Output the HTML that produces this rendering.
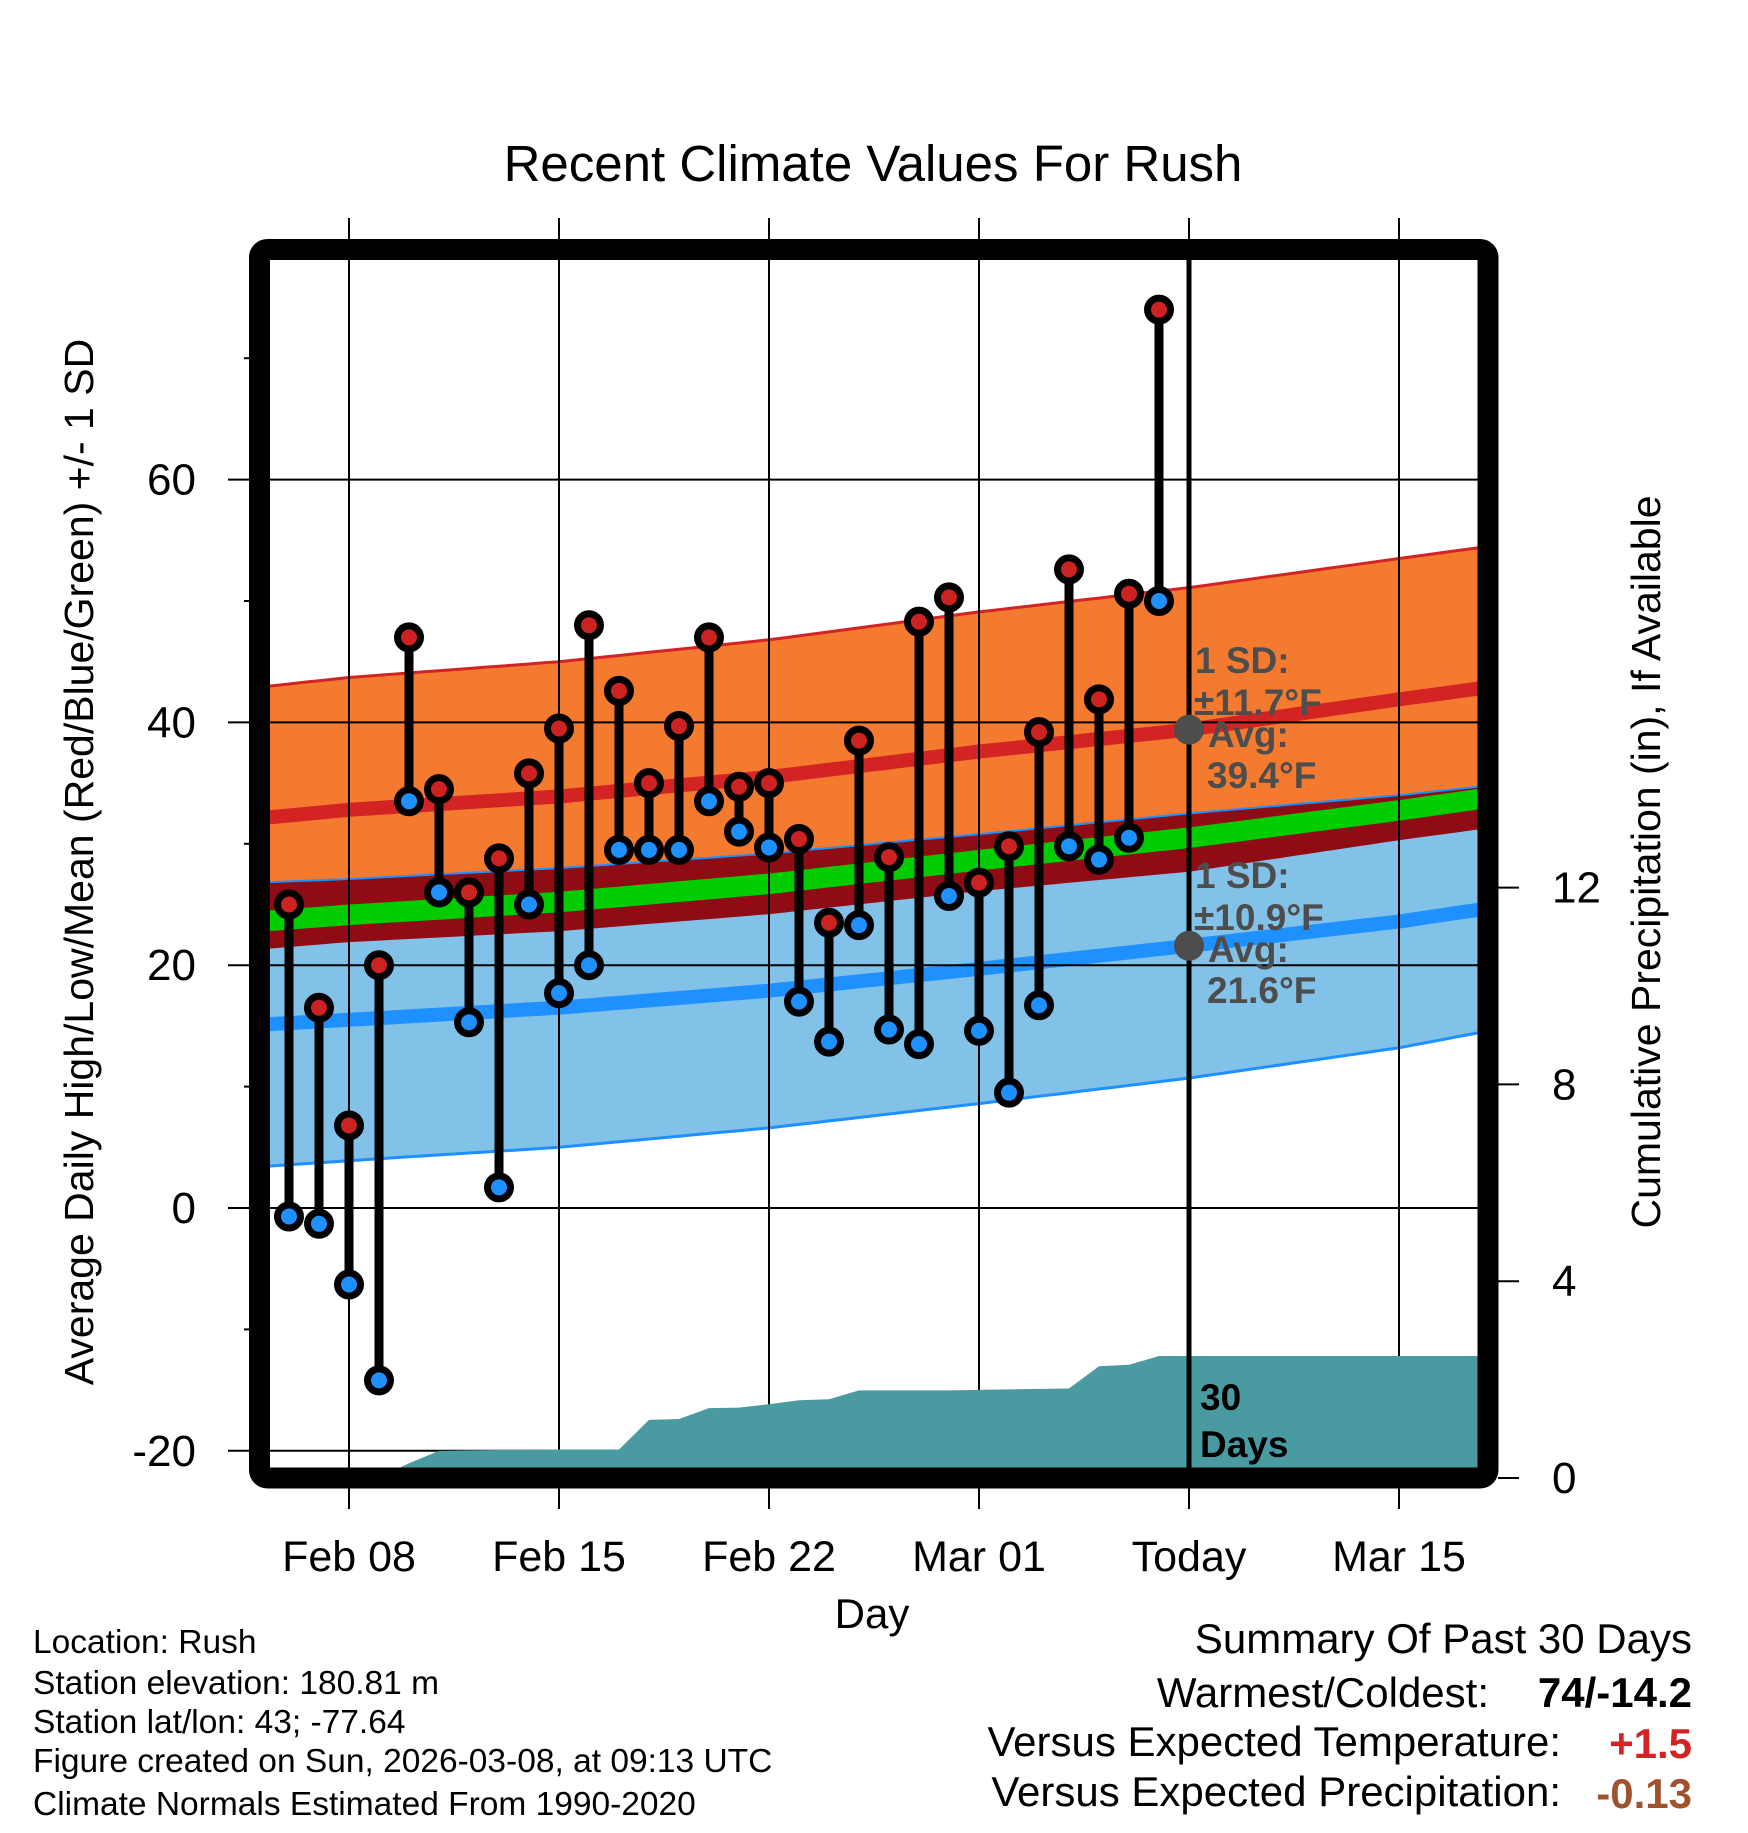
<!DOCTYPE html>
<html><head><meta charset="utf-8"><style>
html,body{margin:0;padding:0;background:#fff;}
svg text{font-family:"Liberation Sans",sans-serif;}
</style></head><body>
<svg id="chart" width="1748" height="1828" viewBox="0 0 1748 1828" xmlns="http://www.w3.org/2000/svg">
<defs><clipPath id="plotclip"><rect x="270" y="260" width="1208" height="1208"/></clipPath></defs>
<rect width="1748" height="1828" fill="#fff"/>
<text x="873" y="181" font-size="51" text-anchor="middle">Recent Climate Values For Rush</text>
<g id="bands" clip-path="url(#plotclip)"></g>
<g id="grid"></g>
<g id="precip" clip-path="url(#plotclip)"></g>
<g id="today"></g>
<g id="obs"></g>
<rect x="259.5" y="249.5" width="1228.5" height="1228.5" rx="8" fill="none" stroke="#000" stroke-width="21"/>
<g id="axes"></g>
<text transform="translate(93,862) rotate(-90)" font-size="41" text-anchor="middle">Average Daily High/Low/Mean (Red/Blue/Green) +/- 1 SD</text>
<text transform="translate(1660,862) rotate(-90)" font-size="41" text-anchor="middle">Cumulative Precipitation (in), If Available</text>
<text x="872" y="1628" font-size="42" text-anchor="middle">Day</text>
<g font-size="33.5">
<text x="33" y="1653">Location: Rush</text>
<text x="33" y="1694">Station elevation: 180.81 m</text>
<text x="33" y="1733">Station lat/lon: 43; -77.64</text>
<text x="33" y="1772">Figure created on Sun, 2026-03-08, at 09:13 UTC</text>
<text x="33" y="1815">Climate Normals Estimated From 1990-2020</text>
</g>
<g font-size="42" text-anchor="end">
<text x="1692" y="1653">Summary Of Past 30 Days</text>
<text x="1489" y="1707">Warmest/Coldest:</text>
<text x="1692" y="1707" font-weight="bold">74/-14.2</text>
<text x="1561" y="1756">Versus Expected Temperature:</text>
<text x="1692" y="1758" font-weight="bold" fill="#d42323">+1.5</text>
<text x="1561" y="1806">Versus Expected Precipitation:</text>
<text x="1692" y="1808" font-weight="bold" fill="#a0522d">-0.13</text>
</g>
</svg>
<script>
const obsDays = [-2,-1,0,1,2,3,4,5,6,7,8,9,10,11,12,13,14,15,16,17,18,19,20,21,22,23,24,25,26,27];
const highs = [25,16.5,6.8,20,47,34.5,26,28.8,35.8,39.5,48,42.6,35,39.7,47,34.7,35,30.4,23.5,38.5,28.9,48.3,50.3,26.8,29.8,39.2,52.6,41.9,50.6,74];
const lows = [-0.7,-1.3,-6.3,-14.2,33.5,26,15.3,1.7,25,17.7,20,29.5,29.5,29.5,33.5,31,29.7,17,13.7,23.3,14.7,13.5,25.7,14.6,9.5,16.7,29.8,28.7,30.5,50];
const precipCum = [0,0,0,0,0.3,0.55,0.56,0.57,0.57,0.58,0.58,0.58,1.18,1.2,1.42,1.43,1.5,1.58,1.6,1.78,1.78,1.78,1.78,1.79,1.8,1.81,1.82,2.27,2.3,2.48];
const normDays = [-3,0,7,14,21,28,35,38];
const highMean = [32.1,32.8,33.9,35.5,37.6,39.4,41.9,42.9];
const highSD = [10.8,10.9,11.1,11.3,11.5,11.7,11.6,11.6];
const lowMean = [15.1,15.5,16.5,17.9,19.7,21.6,23.6,24.7];
const lowSD = [11.7,11.6,11.5,11.3,11.1,10.9,10.4,10.1];
const yTicks = [60,40,20,0,-20];
const yMinor = [70,50,30,10,-10];
const y2Ticks = [0,4,8,12];
const xTickDays = [0,7,14,21,28,35];
const xTickLabels = ["Feb 08","Feb 15","Feb 22","Mar 01","Today","Mar 15"];
const todayDay = 28;

const NS="http://www.w3.org/2000/svg";
const X = d => 349 + 30*d;
const Y = v => 1208 - 12.14*v;
const Y2 = p => 1478 - 49.2*p;
function mk(tag, attrs, parent){const e=document.createElementNS(NS,tag);for(const k in attrs)e.setAttribute(k,attrs[k]);parent.appendChild(e);return e;}
function interp(arr, d){for(let i=0;i<normDays.length-1;i++){if(d<=normDays[i+1]){const t=(d-normDays[i])/(normDays[i+1]-normDays[i]);return arr[i]+(arr[i+1]-arr[i])*t;}}return arr[arr.length-1];}
const samples=[];for(let d=-3;d<=38.01;d+=0.5)samples.push(d);
function series(fn){return samples.map(d=>[X(d),Y(fn(d))]);}
function bandPath(fTop,fBot){const a=series(fTop),b=series(fBot).reverse();return 'M'+a.concat(b).map(p=>p[0].toFixed(1)+','+p[1].toFixed(1)).join('L')+'Z';}
function linePath(f){return 'M'+series(f).map(p=>p[0].toFixed(1)+','+p[1].toFixed(1)).join('L');}
const hm=d=>interp(highMean,d), hs=d=>interp(highSD,d), lm=d=>interp(lowMean,d), ls=d=>interp(lowSD,d);
const bands=document.getElementById('bands');
let e;
e=mk('path',{d:bandPath(d=>hm(d)+hs(d),d=>hm(d)-hs(d)),fill:'#f47a30'},bands);

e=mk('path',{d:bandPath(d=>lm(d)+ls(d),d=>lm(d)-ls(d)),fill:'#82c1e8'},bands);

e=mk('path',{d:bandPath(d=>lm(d)+ls(d),d=>hm(d)-hs(d)),fill:'#8f0c15'},bands);

e=mk('path',{d:bandPath(d=>(hm(d)+lm(d))/2+0.85,d=>(hm(d)+lm(d))/2-0.85),fill:'#00cc00'},bands);

e=mk('path',{d:linePath(hm),fill:'none',stroke:'#d42323','stroke-width':14},bands);

e=mk('path',{d:linePath(lm),fill:'none',stroke:'#1e90ff','stroke-width':14},bands);

e=mk('path',{d:linePath(d=>hm(d)+hs(d)),fill:'none',stroke:'#d42323','stroke-width':3},bands);

e=mk('path',{d:linePath(d=>lm(d)-ls(d)),fill:'none',stroke:'#1e90ff','stroke-width':3},bands);

e=mk('path',{d:linePath(d=>lm(d)+ls(d)),fill:'none',stroke:'#1e90ff','stroke-width':2},bands);


const grid=document.getElementById('grid');
yTicks.forEach(v=>{e=mk('line',{x1:228,x2:1478,y1:Y(v),y2:Y(v),stroke:'#000','stroke-width':2},grid);
});
yMinor.forEach(v=>{e=mk('line',{x1:244,x2:252,y1:Y(v),y2:Y(v),stroke:'#000','stroke-width':2},grid);
});
xTickDays.forEach(d=>{e=mk('line',{x1:X(d),x2:X(d),y1:218,y2:1509,stroke:'#000','stroke-width':2},grid);
});

const pg=document.getElementById('precip');
let pts=[[X(obsDays[0]),Y2(0)]];
obsDays.forEach((d,i)=>pts.push([X(d),Y2(precipCum[i])]));
pts.push([1478,Y2(precipCum[precipCum.length-1])]);pts.push([1478,Y2(0)]);
e=mk('path',{d:'M'+pts.map(p=>p[0].toFixed(1)+','+p[1].toFixed(1)).join('L')+'Z',fill:'#4a9aa2'},pg);


const tg=document.getElementById('today');
e=mk('line',{x1:X(todayDay),x2:X(todayDay),y1:260,y2:1468,stroke:'#000','stroke-width':5},tg);

[[hm,hs,673],[lm,ls,888]].forEach(([fm,fs,by],k)=>{
 e=mk('circle',{cx:X(todayDay),cy:Y(fm(todayDay)),r:15,fill:'#4d4d4d'},tg);
 
 const lines=['1 SD:','\u00b1'+fs(todayDay).toFixed(1)+'\u00b0F','Avg:',' '+fm(todayDay).toFixed(1)+'\u00b0F'];
 const xs=[1195,1194,1208,1207],dy=[0,42,74,115];
 lines.forEach((t,j)=>{e=mk('text',{x:xs[j],y:by+dy[j],'font-size':37,'font-weight':'bold',fill:'#4d4d4d'},tg);e.textContent=t;
 });
});
e=mk('text',{x:1200,y:1410,'font-size':37,'font-weight':'bold'},tg);e.textContent='30';

e=mk('text',{x:1200,y:1457,'font-size':37,'font-weight':'bold'},tg);e.textContent='Days';


const og=document.getElementById('obs');
obsDays.forEach((d,i)=>{
 e=mk('line',{x1:X(d),x2:X(d),y1:Y(highs[i]),y2:Y(lows[i]),stroke:'#000','stroke-width':9},og);
 
});
obsDays.forEach((d,i)=>{
 e=mk('circle',{cx:X(d),cy:Y(lows[i]),r:11.5,fill:'#1e90ff',stroke:'#000','stroke-width':7},og);
 
 e=mk('circle',{cx:X(d),cy:Y(highs[i]),r:11.5,fill:'#cc2222',stroke:'#000','stroke-width':7},og);
 
});

const ag=document.getElementById('axes');
yTicks.forEach(v=>{e=mk('text',{x:196,y:Y(v)+15,'font-size':44,'text-anchor':'end'},ag);e.textContent=String(v);
});
y2Ticks.forEach(p=>{e=mk('line',{x1:1498,x2:1519,y1:Y2(p),y2:Y2(p),stroke:'#000','stroke-width':2},ag);

e=mk('text',{x:1552,y:Y2(p)+15,'font-size':44},ag);e.textContent=String(p);
});
xTickDays.forEach((d,i)=>{e=mk('text',{x:X(d),y:1571,'font-size':43,'text-anchor':'middle'},ag);e.textContent=xTickLabels[i];
});
</script>
</body></html>
